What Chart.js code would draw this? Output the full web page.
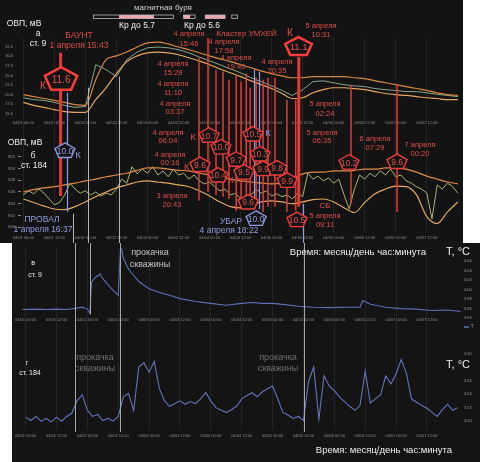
<!DOCTYPE html>
<html>
<head>
<meta charset="utf-8">
<script src="https://cdn.jsdelivr.net/npm/chart.js@4.4.0/dist/chart.umd.min.js"></script>
<style>
  html, body { margin: 0; padding: 0; background: #fff; width: 480px; height: 462px; overflow: hidden; }
  #top { position: absolute; left: 0; top: 0; background: #131313; }
  #bot { position: absolute; left: 12px; top: 243px; background: #141414; }
</style>
</head>
<body>
<canvas id="top" width="463" height="243"></canvas>
<canvas id="bot" width="468" height="219"></canvas>
<script>
const FONT = "'Liberation Sans', Arial, sans-serif";
Chart.defaults.font.family = FONT;
Chart.defaults.animation = false;

// время в часах от 04/01 00:00
const tickHours = [0, 12, 24, 36, 48, 60, 72, 84, 96, 108, 120, 132, 144, 156];
const tickLabels = ['04/01 00:00', '04/01 12:00', '04/02 00:00', '04/02 12:00', '04/03 00:00', '04/03 12:00',
  '04/04 00:00', '04/04 12:00', '04/05 00:00', '04/05 12:00', '04/06 00:00', '04/06 12:00', '04/07 00:00', '04/07 12:00'];

const hours4 = [0, 4, 8, 12, 16, 20, 24, 28, 32, 36, 40, 44, 48, 52, 56, 60, 64, 68, 72, 76, 80, 84,
  88, 92, 96, 100, 104, 108, 112, 116, 120, 124, 128, 132, 136, 140, 144, 148, 152, 156, 160, 164, 168];
const hours2 = [0, 2, 4, 6, 8, 10, 12, 14, 16, 18, 20, 22, 24, 26, 28, 30, 32, 34, 36, 38, 40, 42,
  44, 46, 48, 50, 52, 54, 56, 58, 60, 62, 64, 66, 68, 70, 72, 74, 76, 78, 80, 82, 84, 86, 88, 90,
  92, 94, 96, 98, 100, 102, 104, 106, 108, 110, 112, 114, 116, 118, 120, 122, 124, 126, 128, 130,
  132, 134, 136, 138, 140, 142, 144, 146, 148, 150, 152, 154, 156, 158, 160, 162, 164, 166, 168];

// а) ОВП ст. 9, мВ
const ovpA = [19.2, 18.7, 18.5, 18.0, 17.2, 16.7, 16.9, 27.8, 26.5, 24.7, 29.1, 31.1, 32.2, 32.4, 32.2,
  31.7, 30.9, 29.8, 28.8, 27.8, 26.7, 25.7, 24.4, 23.4, 22.3, 21.1, 19.8, 21.3, 23.4, 23.6, 23.1, 22.6,
  22.3, 22.1, 21.6, 21.3, 21.1, 20.8, 20.8, 20.5, 20.1, 19.8, 19.5];
const ovpAUpper = [20.0, 19.5, 19.0, 18.5, 18.0, 17.4, 17.2, 23.9, 29.1, 30.1, 31.1, 32.4, 33.5, 33.7,
  33.2, 32.4, 31.7, 30.9, 30.1, 29.3, 28.6, 27.8, 27.0, 26.2, 25.5, 24.9, 24.4, 24.4, 24.7, 24.7, 24.7,
  24.7, 24.4, 24.2, 23.6, 23.1, 22.6, 22.1, 21.6, 21.1, 20.5, 20.0, 19.8];
const ovpALower = [18.0, 17.2, 16.7, 16.1, 15.6, 15.4, 15.4, 18.7, 21.8, 25.5, 28.6, 30.1, 30.9, 31.1,
  30.9, 30.4, 29.6, 28.8, 27.8, 26.7, 25.7, 24.7, 23.6, 22.6, 21.6, 20.3, 19.0, 19.2, 20.5, 21.3, 21.8,
  21.8, 21.6, 21.3, 20.8, 20.3, 20.0, 19.8, 19.5, 19.2, 19.0, 18.7, 18.7];
const ticksA = [15, 17.5, 20, 22.5, 25, 27.5, 30, 32.5];

// б) ОВП ст. 184, мВ
const ovpB = [845.5, 846.2, 845.7, 846.5, 845.8, 844.8, 843.8, 844.2, 845.5, 847.5,
  846.5, 845.8, 846.2, 845.5, 846.0, 845.3, 845.8, 845.5, 846.5, 848.2,
  847.5, 850.3, 849.1, 849.9, 849.2, 850.3, 848.9, 849.6, 848.6, 849.9,
  848.9, 849.2, 848.2, 848.9, 847.9, 847.4, 847.7, 846.9, 846.2, 846.5,
  845.5, 845.8, 844.8, 844.2, 845.5, 846.5, 845.8, 846.2, 845.3, 845.7,
  845.2, 845.5, 844.8, 845.8, 845.2, 849.2, 848.2, 848.7, 847.9, 848.4,
  847.5, 848.2, 845.5, 843.1, 846.5, 848.9, 848.2, 849.2, 848.6, 849.6,
  848.9, 849.9, 848.6, 848.9, 847.9, 847.5, 846.9, 846.5, 845.8, 841.4,
  847.2, 846.5, 847.5, 846.9, 845.8];
const ovpBUpper = [846.0, 846.4, 846.7, 846.9, 847.2, 847.5, 847.9, 848.2, 848.6, 848.9, 849.2, 849.7,
  850.1, 850.1, 849.9, 849.7, 849.6, 849.2, 848.9, 848.6, 848.2, 847.9, 847.7, 847.5, 847.4, 847.5, 848.2,
  849.1, 849.4, 849.4, 849.6, 849.6, 849.7, 849.9, 849.9, 850.1, 850.1, 849.9, 849.4, 848.7, 848.2,
  847.7, 847.4];
const ovpBLower = [844.8, 844.2, 843.6, 843.1, 843.0, 843.5, 844.3, 845.2, 846.0, 846.7, 847.2, 847.7,
  847.9, 847.7, 847.5, 847.2, 846.9, 846.2, 845.3, 844.3, 843.5, 843.3, 843.8, 844.3, 844.5, 844.3, 844.0,
  844.3, 844.7, 844.8, 844.3, 843.3, 842.5, 844.2, 845.7, 846.5, 847.0, 846.9, 845.5, 841.8, 840.6,
  842.6, 844.3];
const ticksB = [840, 842, 844, 846, 848, 850, 852];

// в) T ст. 9, °C
const hoursC = [-1.5, 4, 8, 12, 16, 20, 22, 24, 25, 25.6, 27, 29, 30, 33, 36, 37, 38, 40, 44, 48,
  52, 56, 60, 66, 72, 78, 84, 88, 92, 96, 100, 106, 112, 118, 124, 130, 131, 134, 140, 146,
  152, 158, 164, 169];
const tempC = [3.958, 3.959, 3.958, 3.959, 3.958, 3.961, 3.963, 3.959, 3.950, 4.015,
  4.025, 4.033, 4.023, 4.004, 3.988, 4.097, 4.066, 4.043, 4.017, 4.002,
  3.994, 3.988, 3.981, 3.975, 3.971, 3.967, 3.971, 3.973, 3.971, 3.971,
  3.969, 3.965, 3.963, 3.962, 3.963, 3.963, 3.977, 3.969, 3.963, 3.960,
  3.959, 3.956, 3.957, 3.954];
const ticksC = [3.94, 3.96, 3.98, 4.00, 4.02, 4.04, 4.06];

// г) T ст. 184, °C
const tempD = [3.506, 3.501, 3.507, 3.500, 3.504, 3.499, 3.506, 3.500, 3.507, 3.512,
  3.530, 3.539, 3.516, 3.507, 3.510, 3.501, 3.504, 3.500, 3.507, 3.536,
  3.541, 3.516, 3.580, 3.586, 3.572, 3.588, 3.548, 3.530, 3.522, 3.526,
  3.530, 3.525, 3.529, 3.526, 3.533, 3.542, 3.530, 3.520, 3.516, 3.513,
  3.517, 3.522, 3.533, 3.538, 3.542, 3.536, 3.543, 3.548, 3.552, 3.533,
  3.513, 3.509, 3.504, 3.507, 3.501, 3.559, 3.580, 3.503, 3.567, 3.552,
  3.545, 3.536, 3.529, 3.522, 3.516, 3.523, 3.574, 3.527, 3.533, 3.539,
  3.567, 3.555, 3.570, 3.591, 3.571, 3.533, 3.528, 3.523, 3.519, 3.513,
  3.507, 3.517, 3.525, 3.516, 3.520];
const ticksD = [3.50, 3.52, 3.54, 3.56, 3.60];

// магнитная буря (часы)
const stormFrame = [[27.1, 58.0], [61.9, 66.4], [70.3, 78.0], [80.6, 82.8]];
const stormFill = [[37.0, 50.5], [61.9, 64.5], [70.3, 78.0]];

// землетрясения: время, верх (ед. а), низ (ед. б), толщина
const quakeLines = [
  [14.4, 30.9, 845.3, 3], [67.9, 29.6, 844.5, 1.5], [71.4, 34.8, 846.0, 1.5], [74.5, 26.5, 845.5, 1.5],
  [77.2, 26.0, 845.2, 1.5], [79.5, 23.9, 844.8, 1.5], [82.3, 24.9, 842.8, 1.5], [84.2, 23.4, 844.0, 1.5],
  [86.2, 25.5, 843.1, 1.5], [87.7, 21.8, 844.0, 1.5], [90.0, 24.4, 843.6, 1.5], [92.7, 23.9, 842.6, 1.5],
  [94.6, 24.4, 843.5, 1.5], [97.3, 24.4, 843.5, 1.5], [101.9, 18.7, 842.6, 1.5], [105.3, 18.7, 842.8, 1.5],
  [106.5, 29.8, 843.5, 3], [126.7, 22.6, 844.0, 1.5], [144.5, 22.6, 842.6, 1.5]
];
// провалы: время, ось/значение верха, ось/значение низа (null = край)
const sinkLines = [
  [16.9, 'yA', 20.5, 'yB', 842.6], [89.0, 'yA', 26.5, 'yB', 843.1],
  [91.1, 'yA', 26.0, 'yB', 843.1], [108.2, 'yB', 844.0, null, null]
];
// прокачка скважин
const pumpTop = [[19.2, 'yB', 842.3], [25.0, 'yA', 21.8], [37.0, 'yA', 24.7]];
const pumpBot = [[19.2, 'yD', 3.484], [25.0, 'yC', 3.948], [36.8, 'yD', 3.484], [108.2, 'yD', 3.484]];

// энергетические классы: время, ось, значение, класс, вид
const quakeClass = [
  [14.6, 'yA', 23.9, '11.6', 'L'], [106.4, 'yA', 32.4, '11.1', 'M'], [16.1, 'yB', 853.0, '10.0', 'B'],
  [71.8, 'yB', 855.6, '10.7', 'S'], [76.4, 'yB', 853.6, '10.0', 'S'], [68.3, 'yB', 850.6, '9.6', 'S'],
  [82.3, 'yB', 851.5, '9.7', 'S'], [75.3, 'yB', 848.8, '10.4', 'S'], [85.3, 'yB', 849.3, '9.5', 'S'],
  [88.8, 'yB', 855.8, '10.5', 'S'], [91.5, 'yB', 852.4, '10.3', 'S'], [92.7, 'yB', 849.9, '9.9', 'S'],
  [98.1, 'yB', 850.0, '9.8', 'S'], [102.0, 'yB', 847.9, '9.9', 'S'], [86.9, 'yB', 844.2, '9.6', 'S'],
  [90.0, 'yB', 841.4, '10.0', 'B'], [105.8, 'yB', 841.2, '10.5', 'S'], [125.9, 'yB', 851.0, '10.2', 'S'],
  [144.5, 'yB', 851.1, '9.6', 'S']
];

const COL = { w: '#eeeeee', g: '#cfcfcf', r: '#de4e4a', b: '#8d9ce0', l: '#c4c4c4', d: '#6e6e6e' };
const SHAPE = {
  L: { rx: 17, ry: 12.5, lw: 2.5, fs: 10, c: '#ff3b3b', t: '#e4504c' },
  M: { rx: 14, ry: 10, lw: 2.5, fs: 9.5, c: '#ff3b3b', t: '#e4504c' },
  S: { rx: 10.5, ry: 8, lw: 1.4, fs: 8.5, c: '#f03c3c', t: '#e4504c' },
  B: { rx: 10.5, ry: 8, lw: 1.4, fs: 8.5, c: '#8d9ce0', t: '#8d9ce0' }
};

// подписи верхней панели (пиксели)
const topTexts = [
  ['ОВП, мВ', 24, 24, 'w', 8.5], ['а', 38, 34, 'w', 8.5], ['ст. 9', 38, 44, 'w', 8.5],
  ['магнитная буря', 163, 8, 'g', 8], ['Кр до 5.7', 137, 26, 'w', 8.5], ['Кр до 5.6', 202, 26, 'w', 8.5],
  ['БАУНТ', 79, 36, 'r', 8.5], ['1 апреля 15:43', 79, 45.5, 'r', 8.5], ['К', 43, 86, 'r', 10],
  ['4 апреля', 189, 34, 'r', 7.5], ['15:46', 189, 43.5, 'r', 7.5],
  ['4 апреля', 224, 42, 'r', 7.5], ['17:58', 224, 50.5, 'r', 7.5],
  ['Кластер УМХЕЙ', 246.5, 34, 'r', 8], ['К', 290, 33, 'r', 10],
  ['5 апреля', 321, 25.5, 'r', 7.5], ['10:31', 321, 35, 'r', 7.5],
  ['4 апреля', 236, 57.5, 'r', 7.5], ['19:40', 236, 66.5, 'r', 7.5],
  ['4 апреля', 277, 61.5, 'r', 7.5], ['20:35', 277, 70.5, 'r', 7.5],
  ['4 апреля', 173, 63.5, 'r', 7.5], ['15:29', 173, 72.5, 'r', 7.5],
  ['4 апреля', 173, 84, 'r', 7.5], ['11:10', 173, 93, 'r', 7.5],
  ['4 апреля', 175, 103.5, 'r', 7.5], ['03:37', 175, 112, 'r', 7.5],
  ['5 апреля', 325, 104, 'r', 7.5], ['02:24', 325, 113.5, 'r', 7.5],
  ['ОВП, мВ', 25, 143, 'w', 8.5], ['б', 33, 156, 'w', 8.5], ['ст. 184', 34, 166, 'w', 8.5],
  ['К', 78, 156, 'b', 9],
  ['4 апреля', 168, 132.5, 'r', 7.5], ['06:04', 168, 141, 'r', 7.5],
  ['4 апреля', 170, 154.5, 'r', 7.5], ['00:16', 170, 163, 'r', 7.5],
  ['3 апреля', 172, 196, 'r', 7.5], ['20:43', 172, 205, 'r', 7.5],
  ['К', 193, 137.5, 'r', 9], ['К', 186.5, 168, 'r', 9], ['К', 231, 180.5, 'r', 9], ['К', 268, 133.5, 'b', 9],
  ['5 апреля', 322, 132.5, 'r', 7.5], ['06:35', 322, 141, 'r', 7.5],
  ['6 апреля', 375, 138.5, 'r', 7.5], ['07:29', 375, 147.5, 'r', 7.5],
  ['7 апреля', 420, 145, 'r', 7.5], ['00:20', 420, 154, 'r', 7.5],
  ['СБ', 325, 206, 'r', 8], ['5 апреля', 325, 215.5, 'r', 7.5], ['09:11', 325, 224.5, 'r', 7.5],
  ['ПРОВАЛ', 42, 220, 'b', 8.5], ['1 апреля 16:37', 43, 229.5, 'b', 8.5],
  ['УБАР', 231, 221.5, 'b', 8.5], ['4 апреля 18:22', 229, 230.5, 'b', 8.5]
];
// подписи нижней панели (пиксели страницы)
const botTexts = [
  ['в', 33, 263, 'w', 7], ['ст. 9', 35, 275, 'w', 7],
  ['прокачка', 150, 253, 'l', 9], ['скважины', 150, 264.5, 'l', 9],
  ['Время: месяц/день час:минута', 358, 252, 'w', 9.5], ['T, °C', 458, 252, 'w', 11],
  ['г', 27, 363.5, 'w', 7], ['ст. 184', 30, 373.5, 'w', 7],
  ['прокачка', 95, 357.5, 'd', 9], ['скважины', 95, 368.5, 'd', 9],
  ['прокачка', 278, 357.5, 'd', 9], ['скважины', 278, 368.5, 'd', 9],
  ['T, °C', 458, 365, 'w', 11], ['Время: месяц/день час:минута', 384, 450, 'w', 9.5]
];
const BOT_X = 12, BOT_Y = 243;

const pts = (xs, ys) => xs.map((x, i) => ({ x, y: ys[i] }));

function text(ctx, s, x, y, color, size) {
  ctx.font = size + 'px ' + FONT;
  ctx.fillStyle = color;
  ctx.textAlign = 'center';
  ctx.textBaseline = 'middle';
  ctx.fillText(s, x, y);
}

function vline(ctx, x, y0, y1, color, w) {
  ctx.beginPath();
  ctx.moveTo(x, y0);
  ctx.lineTo(x, y1);
  ctx.strokeStyle = color;
  ctx.lineWidth = w;
  ctx.stroke();
}

function pentagon(ctx, cx, cy, label, sh) {
  ctx.beginPath();
  for (let k = 0; k < 5; k++) {
    const a = -Math.PI / 2 + k * 2 * Math.PI / 5;
    const px = cx + sh.rx * Math.cos(a), py = cy + sh.ry * Math.sin(a);
    if (k) ctx.lineTo(px, py); else ctx.moveTo(px, py);
  }
  ctx.closePath();
  ctx.fillStyle = '#141414';
  ctx.fill();
  ctx.lineWidth = sh.lw;
  ctx.strokeStyle = sh.c;
  ctx.stroke();
  text(ctx, label, cx, cy + 0.5, sh.t, sh.fs);
}

function timeRow(ctx, x, y) {
  tickHours.forEach((h, i) => text(ctx, tickLabels[i], x.getPixelForValue(h), y, '#8c8c8c', 4));
}

const topDecor = {
  id: 'topDecor',
  afterDatasetsDraw(chart) {
    const { ctx, scales } = chart;
    const x = scales.x;
    const px = t => x.getPixelForValue(t);
    const H = chart.height;
    ctx.save();
    timeRow(ctx, x, 123);

    stormFill.forEach(([a, b]) => {
      ctx.fillStyle = '#f3a5ad';
      ctx.fillRect(px(a), 15, px(b) - px(a), 3.5);
    });
    stormFrame.forEach(([a, b]) => {
      ctx.strokeStyle = '#b8b8b8';
      ctx.lineWidth = 0.8;
      ctx.strokeRect(px(a), 15, px(b) - px(a), 3.5);
    });

    pumpTop.forEach(([t, ax, v]) => {
      vline(ctx, Math.round(px(t)) + 0.5, scales[ax].getPixelForValue(v), H, '#b4b4b4', 1);
    });
    quakeLines.forEach(([t, top, bottom, w]) => {
      vline(ctx, px(t), scales.yA.getPixelForValue(top), scales.yB.getPixelForValue(bottom), '#e23b37', w);
    });
    sinkLines.forEach(([t, a0, v0, a1, v1]) => {
      const y0 = scales[a0].getPixelForValue(v0);
      const y1 = a1 ? scales[a1].getPixelForValue(v1) : H;
      vline(ctx, Math.round(px(t)) + 0.5, y0, y1, '#8d9ce0', 1.2);
    });
    quakeClass.forEach(([t, ax, v, label, kind]) => {
      pentagon(ctx, px(t), scales[ax].getPixelForValue(v), label, SHAPE[kind]);
    });
    topTexts.forEach(([s, tx, ty, c, fs]) => text(ctx, s, tx, ty, COL[c], fs));
    ctx.restore();
  }
};

const botDecor = {
  id: 'botDecor',
  afterDatasetsDraw(chart) {
    const { ctx, scales } = chart;
    const x = scales.x;
    ctx.save();
    timeRow(ctx, x, 320 - BOT_Y);
    pumpBot.forEach(([t, ax, v]) => {
      vline(ctx, Math.round(x.getPixelForValue(t)) + 0.5, 0, scales[ax].getPixelForValue(v), '#a8a8a8', 1);
    });
    // легенда "— T"
    ctx.beginPath();
    ctx.moveTo(464 - BOT_X, 327 - BOT_Y);
    ctx.lineTo(469 - BOT_X, 327 - BOT_Y);
    ctx.strokeStyle = '#5d6fb5';
    ctx.lineWidth = 1.5;
    ctx.stroke();
    text(ctx, 'T', 472 - BOT_X, 327 - BOT_Y, '#9a9a9a', 4.5);
    botTexts.forEach(([s, tx, ty, c, fs]) => text(ctx, s, tx - BOT_X, ty - BOT_Y, COL[c], fs));
    ctx.restore();
  }
};

function xAxis(min, max) {
  return {
    type: 'linear', position: 'bottom', min, max,
    afterBuildTicks: s => { s.ticks = tickHours.map(v => ({ value: v })); },
    afterFit: s => { s.height = 9; },
    ticks: {
      font: { size: 4 }, color: '#8c8c8c', maxRotation: 0, autoSkip: false, padding: 3,
      callback: v => tickLabels[tickHours.indexOf(v)]
    },
    grid: { color: 'rgba(255,255,255,0.07)', drawTicks: false },
    border: { display: false }
  };
}

function yAxis(pos, weight, stackWeight, min, max, list, digits, marks, pad, width) {
  return {
    type: 'linear', position: pos, stack: pos, stackWeight, weight, min, max,
    afterBuildTicks: s => { s.ticks = list.map(v => ({ value: v })); },
    afterFit: s => { s.width = width; },
    ticks: { font: { size: 4 }, color: '#9a9a9a', padding: pad, autoSkip: false, callback: v => v.toFixed(digits) },
    grid: { drawOnChartArea: false, drawTicks: marks, tickLength: 3, color: '#8a8a8a' },
    border: { display: false }
  };
}

const lineStyle = { pointRadius: 0, fill: false };

new Chart(document.getElementById('top'), {
  type: 'line',
  data: {
    datasets: [
      { ...lineStyle, data: pts(hours4, ovpAUpper), yAxisID: 'yA', borderColor: '#d5873f', borderWidth: 1.2, cubicInterpolationMode: 'monotone' },
      { ...lineStyle, data: pts(hours4, ovpALower), yAxisID: 'yA', borderColor: '#e3a660', borderWidth: 1.2, cubicInterpolationMode: 'monotone' },
      { ...lineStyle, data: pts(hours4, ovpA), yAxisID: 'yA', borderColor: '#86a68a', borderWidth: 1 },
      { ...lineStyle, data: pts(hours4, ovpBUpper), yAxisID: 'yB', borderColor: '#de8a44', borderWidth: 1.2, cubicInterpolationMode: 'monotone' },
      { ...lineStyle, data: pts(hours4, ovpBLower), yAxisID: 'yB', borderColor: '#e3a660', borderWidth: 1.2, cubicInterpolationMode: 'monotone' },
      { ...lineStyle, data: pts(hours2, ovpB), yAxisID: 'yB', borderColor: '#a9b46c', borderWidth: 1 }
    ]
  },
  options: {
    responsive: false,
    devicePixelRatio: 1,
    events: [],
    layout: { padding: { top: 38, left: 0, right: 1, bottom: 0 } },
    plugins: { legend: { display: false }, tooltip: { enabled: false } },
    scales: {
      x: xAxis(-0.9, 169.6),
      yA: yAxis('left', 2, 92, 10.98, 34.75, ticksA, 1, false, 8, 21),
      yB: yAxis('left', 1, 104, 839.07, 856.69, ticksB, 0, true, 3, 21)
    }
  },
  plugins: [topDecor]
});

new Chart(document.getElementById('bot'), {
  type: 'line',
  data: {
    datasets: [
      { ...lineStyle, data: pts(hoursC, tempC), yAxisID: 'yC', borderColor: '#5d6fb5', borderWidth: 1.1 },
      { ...lineStyle, data: pts(hours2, tempD), yAxisID: 'yD', borderColor: '#6474bb', borderWidth: 1.1 }
    ]
  },
  options: {
    responsive: false,
    devicePixelRatio: 1,
    events: [],
    layout: { padding: { top: 2, left: 8, right: 0, bottom: 23 } },
    plugins: { legend: { display: false }, tooltip: { enabled: false } },
    scales: {
      x: xAxis(-1.28, 169.25),
      yC: yAxis('right', 1, 90, 3.9007, 4.0869, ticksC, 2, false, 3, 19),
      yD: yAxis('right', 2, 95, 3.487, 3.6246, ticksD, 2, false, 3, 19)
    }
  },
  plugins: [botDecor]
});
</script>
</body>
</html>
